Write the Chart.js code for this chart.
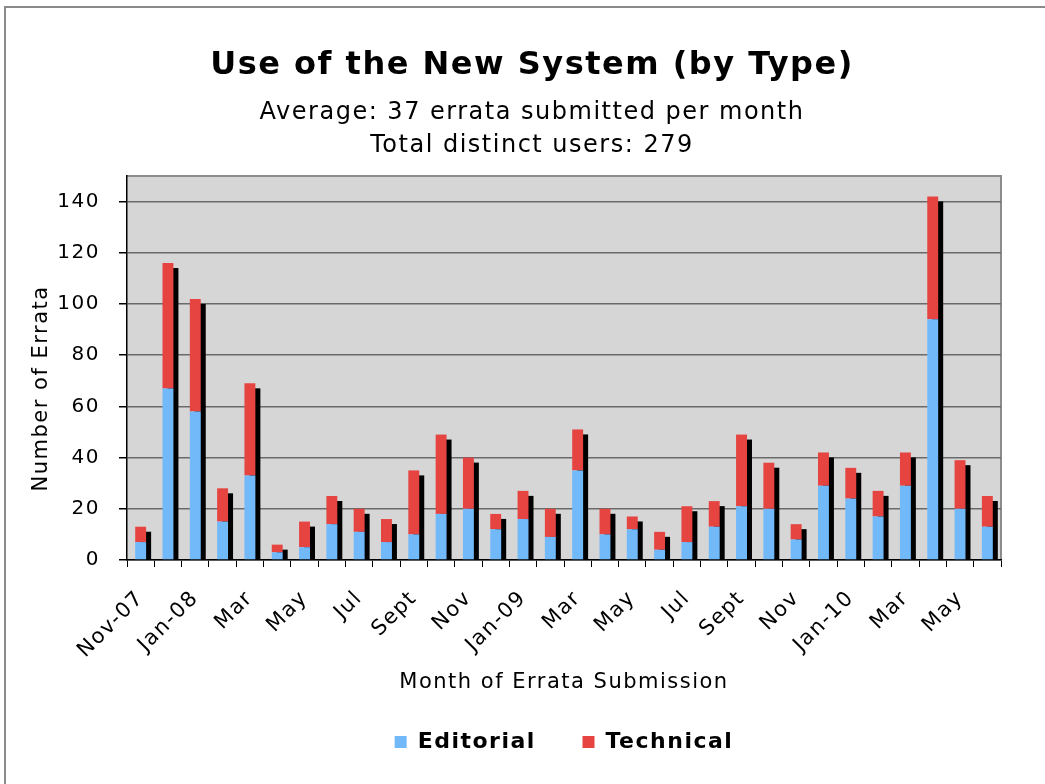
<!DOCTYPE html>
<html>
<head>
<meta charset="utf-8">
<script src="https://cdn.jsdelivr.net/npm/chart.js@4/dist/chart.umd.min.js"></script>
<style>
  html, body { margin: 0; padding: 0; background: #fff; overflow: hidden; }
  #frame {
    position: absolute; left: 4px; top: 6px;
    width: 1052px; height: 780px;
    border: 2px solid #8a8a8a;
  }
</style>
</head>
<body>
<div id="frame"><canvas id="errataChart"></canvas></div>
<script>
const months = ['Nov-07', 'Dec', 'Jan-08', 'Feb', 'Mar', 'Apr', 'May', 'Jun', 'Jul', 'Aug', 'Sept', 'Oct',
  'Nov', 'Dec', 'Jan-09', 'Feb', 'Mar', 'Apr', 'May', 'Jun', 'Jul', 'Aug', 'Sept', 'Oct',
  'Nov', 'Dec', 'Jan-10', 'Feb', 'Mar', 'Apr', 'May', 'Jun'];
const editorial = [7, 67, 58, 15, 33, 3, 5, 14, 11, 7, 10, 18, 20, 12, 16, 9, 35, 10, 12, 4, 7, 13, 21, 20, 8, 29, 24, 17, 29, 94, 20, 13];
const technical = [6, 49, 44, 13, 36, 3, 10, 11, 9, 9, 25, 31, 20, 6, 11, 11, 16, 10, 5, 7, 14, 10, 28, 18, 6, 13, 12, 10, 13, 48, 19, 12];
const yTicks = [0, 20, 40, 60, 80, 100, 120, 140];

const FONT = 'DejaVu Sans';

// the original font is wider than DejaVu, so open the letters up a little
const wideText = {
  id: 'wideText',
  beforeLayout(chart) { chart.ctx.letterSpacing = '1.5px'; },
  beforeDraw(chart) { chart.ctx.letterSpacing = '1.5px'; }
};

// grey plot area with a frame on top and right
const plotBackground = {
  id: 'plotBackground',
  beforeDraw(chart) {
    const { ctx, chartArea: a } = chart;
    ctx.save();
    ctx.fillStyle = '#d6d6d6';
    ctx.fillRect(a.left, a.top, a.right - a.left, a.bottom - a.top);
    ctx.strokeStyle = '#8c8c8c';
    ctx.lineWidth = 2;
    ctx.beginPath();
    ctx.moveTo(a.left, a.top);
    ctx.lineTo(a.right, a.top);
    ctx.lineTo(a.right, a.bottom);
    ctx.stroke();
    ctx.restore();
  }
};

// black drop shadow behind each stacked column
const barShadow = {
  id: 'barShadow',
  beforeDatasetsDraw(chart) {
    const ctx = chart.ctx;
    const tops = chart.getDatasetMeta(1).data;
    const bases = chart.getDatasetMeta(0).data;
    ctx.save();
    ctx.fillStyle = '#000';
    tops.forEach((bar, i) => {
      const base = bases[i].base;
      const w = bar.width;
      ctx.fillRect(bar.x - w / 2 + 5, bar.y + 5, w, base - bar.y - 5);
    });
    ctx.restore();
  }
};

new Chart(document.getElementById('errataChart'), {
  type: 'bar',
  data: {
    labels: months,
    datasets: [
      { label: 'Editorial', data: editorial, backgroundColor: '#72b9fa', barPercentage: 0.4, categoryPercentage: 1 },
      { label: 'Technical', data: technical, backgroundColor: '#e54441', barPercentage: 0.4, categoryPercentage: 1 }
    ]
  },
  options: {
    responsive: true,
    maintainAspectRatio: false,
    animation: false,
    layout: { padding: { left: 0, right: 0, top: 0, bottom: 25 } },
    plugins: {
      title: {
        display: true,
        text: 'Use of the New System (by Type)',
        color: '#000',
        font: { family: FONT, size: 32, weight: 'bold' },
        padding: { top: 38.8, bottom: 11.3 }
      },
      subtitle: {
        display: true,
        text: ['Average: 37 errata submitted per month', 'Total distinct users: 279'],
        color: '#000',
        font: { family: FONT, size: 24, lineHeight: 33 / 24 },
        padding: { top: 0, bottom: 13.5 }
      },
      legend: {
        position: 'bottom',
        fullSize: false,
        labels: {
          boxWidth: 12,
          boxHeight: 12,
          padding: 10,
          color: '#000',
          font: { family: FONT, size: 22, weight: 'bold' },
          generateLabels(chart) {
            const items = Chart.defaults.plugins.legend.labels.generateLabels(chart);
            items[0].text += '\u00a0\u00a0\u00a0\u00a0';
            return items;
          }
        }
      }
    },
    scales: {
      x: {
        stacked: true,
        grid: { offset: true, drawOnChartArea: false, tickLength: 7, tickColor: '#000' },
        border: { color: '#000', width: 1.5 },
        ticks: {
          autoSkip: false,
          minRotation: 45,
          maxRotation: 45,
          padding: 19,
          color: '#000',
          font: { family: FONT, size: 21 },
          callback: function (value, index) {
            return index % 2 === 0 ? this.getLabelForValue(value) : '';
          }
        },
        title: {
          display: true,
          text: 'Month of Errata Submission',
          color: '#000',
          font: { family: FONT, size: 21 },
          padding: { top: 0, bottom: 26 }
        },
        afterFit(scale) { scale.height = 161; }
      },
      y: {
        stacked: true,
        min: 0,
        max: 150,
        afterBuildTicks(scale) {
          scale.ticks = yTicks.map(v => ({ value: v }));
        },
        grid: { color: '#6a6a6a', lineWidth: 1.5, tickLength: 8, tickColor: '#000' },
        border: { color: '#000', width: 1.5 },
        ticks: { padding: 19, color: '#000', font: { family: FONT, size: 20 } },
        title: {
          display: true,
          text: 'Number of Errata\u00a0\u00a0\u00a0\u00a0\u00a0',
          color: '#000',
          font: { family: FONT, size: 21 },
          padding: { top: 23.4, bottom: 0 }
        },
        afterFit(scale) { scale.width = 121; }
      },
      // empty axis that only keeps white space on the right of the plot
      spacer: {
        type: 'linear',
        position: 'right',
        grid: { display: false },
        border: { display: false },
        ticks: { display: false },
        afterFit(scale) { scale.width = 57; }
      }
    }
  },
  plugins: [wideText, plotBackground, barShadow]
});
</script>
</body>
</html>
